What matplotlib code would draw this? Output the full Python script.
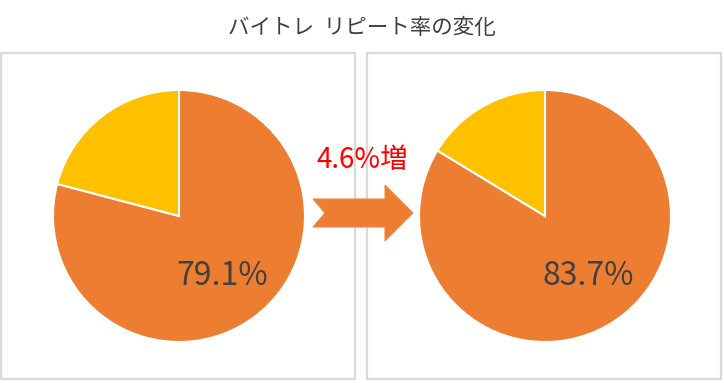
import matplotlib
matplotlib.use("Agg")
import matplotlib.pyplot as plt
from matplotlib.patches import Rectangle, Polygon

plt.rcParams['font.family'] = ['Noto Sans CJK JP', 'DejaVu Sans']

title = "バイトレ  リピート率の変化"
before = [79.1, 20.9]
after = [83.7, 16.3]
labels = ["79.1%", "83.7%"]
diff_label = "4.6%増"
colors = ["#ED7D31", "#FFC000"]

W, H = 724, 383
fig = plt.figure(figsize=(W / 100, H / 100), dpi=100)

def fx(px):
    return px / W

def fy(py):
    return 1 - py / H

# panel frames
for x0 in (1, 367):
    fig.patches.append(Rectangle((fx(x0), fy(379)), fx(354), 326 / H,
                                 transform=fig.transFigure, fill=False,
                                 edgecolor="#d9d9d9", linewidth=1.6))

# pies
R = 126
for cx, vals, lab in ((179, before, labels[0]), (545, after, labels[1])):
    ax = fig.add_axes([fx(cx - R), fy(216 + R), fx(2 * R), 2 * R / H])
    ax.pie(vals, colors=colors, startangle=90, counterclock=False,
           wedgeprops=dict(edgecolor="white", linewidth=1.5))
    ax.set_xlim(-1, 1)
    ax.set_ylim(-1, 1)
    ax.set_aspect("equal")
    ax.axis("off")
    ax.text(0.34, -0.48, lab, fontsize=23, color="#404040",
            ha="center", va="center")

# arrow
pts = [(313, 199), (385, 199), (385, 185), (413, 213), (385, 241),
       (385, 227), (313, 227), (325, 213)]
fig.patches.append(Polygon([(fx(x), fy(y)) for x, y in pts], closed=True,
                           transform=fig.transFigure, facecolor="#ED7D31",
                           edgecolor="#F08A45", linewidth=0.8))

fig.text(fx(362), fy(160), diff_label, color="#FF0000", fontsize=20,
         ha="center", va="center")
fig.text(fx(362), fy(28), title, color="#404040", fontsize=15.5,
         ha="center", va="center")

fig.savefig("out.png", dpi=100)
